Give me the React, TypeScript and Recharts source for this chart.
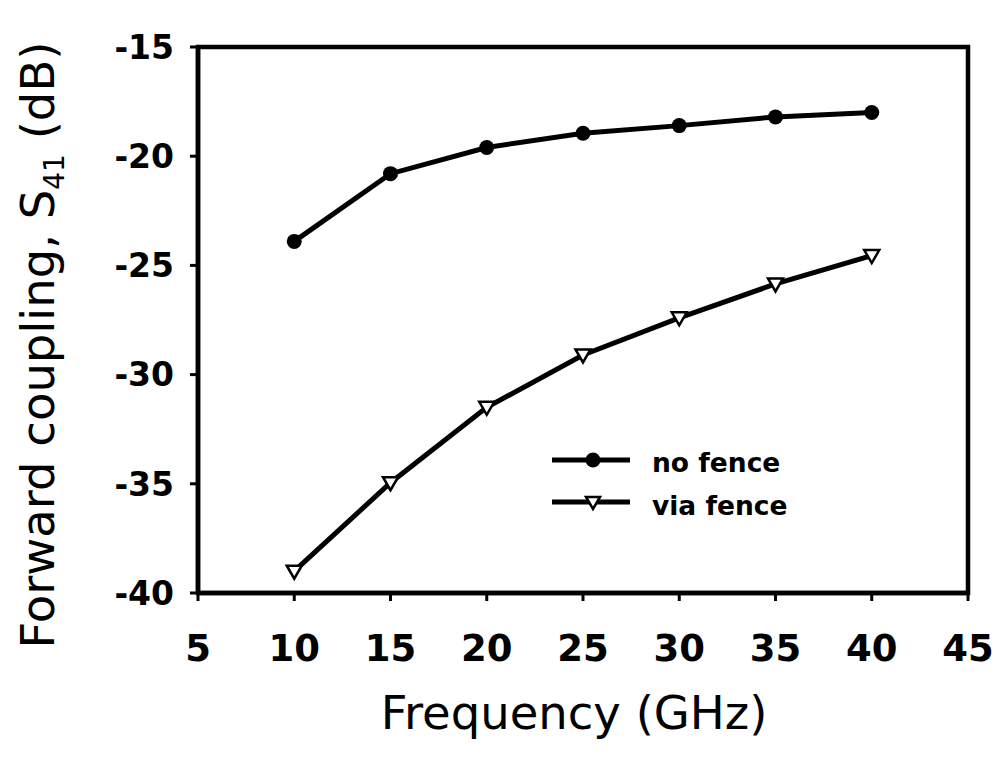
import {
  LineChart,
  Line,
  XAxis,
  YAxis,
  ReferenceArea,
  Legend,
} from "recharts";

const freqs = [10, 15, 20, 25, 30, 35, 40];
const noFence = [-23.9, -20.8, -19.6, -18.95, -18.6, -18.2, -18.0];
const viaFence = [-39.0, -34.95, -31.5, -29.1, -27.4, -25.85, -24.55];
const xTicks = [5, 10, 15, 20, 25, 30, 35, 40, 45];
const yTicks = [-40, -35, -30, -25, -20, -15];

const data = freqs.map((f, i) => ({ f, noFence: noFence[i], viaFence: viaFence[i] }));

const FONT = "'DejaVu Sans', 'Liberation Sans', Arial, sans-serif";

function Circle(props: any) {
  const { cx, cy, index } = props;
  if (cx == null || cy == null) return <g key={`c${index}`} />;
  return <circle key={`c${index}`} cx={cx} cy={cy} r={7.5} fill="#000" />;
}

function Triangle(props: any) {
  const { cx, cy, index } = props;
  if (cx == null || cy == null) return <g key={`t${index}`} />;
  return (
    <path
      key={`t${index}`}
      d={`M${cx - 7.5},${cy - 5.5} L${cx + 7.5},${cy - 5.5} L${cx},${cy + 7.5} Z`}
      fill="#fff"
      stroke="#000"
      strokeWidth={2.5}
    />
  );
}

function YTitle() {
  return (
    <text
      transform="rotate(-90)"
      x={-345}
      y={54}
      textAnchor="middle"
      fontSize={46.5}
      fill="#000"
      style={{ fontFamily: FONT }}
    >
      Forward coupling, S
      <tspan fontSize={28} dy={10}>41</tspan>
      <tspan dy={-10}> (dB)</tspan>
    </text>
  );
}

function XTitle() {
  return (
    <text x={574} y={729} textAnchor="middle" fontSize={46.5} fill="#000" style={{ fontFamily: FONT }}>
      Frequency (GHz)
    </text>
  );
}

function LegendBox() {
  return (
    <svg width={260} height={90} style={{ overflow: "visible" }}>
      <line x1={7} y1={20} x2={85} y2={20} stroke="#000" strokeWidth={5} />
      <circle cx={48} cy={20} r={7.5} fill="#000" />
      <text x={107} y={32} fontSize={26.5} fontWeight={700} fill="#000" style={{ fontFamily: FONT }}>
        no fence
      </text>
      <line x1={7} y1={62} x2={85} y2={62} stroke="#000" strokeWidth={5} />
      <path d="M41,57 L55,57 L48,69 Z" fill="#fff" stroke="#000" strokeWidth={2.5} />
      <text x={107} y={75} fontSize={26.5} fontWeight={700} fill="#000" style={{ fontFamily: FONT }}>
        via fence
      </text>
    </svg>
  );
}

export default function App() {
  return (
    <div style={{ position: "absolute", left: 0, top: 0, background: "#fff", fontFamily: FONT }}>
      <LineChart
        width={997}
        height={760}
        data={data}
        margin={{ top: 47, right: 29, bottom: 0, left: 0 }}
      >
        <XAxis
          dataKey="f"
          type="number"
          domain={[5, 45]}
          ticks={xTicks}
          interval={0}
          height={167}
          tickSize={8}
          tickMargin={34}
          tick={{ fill: "#000", fontSize: 37, fontWeight: 700 }}
          tickLine={{ stroke: "#000", strokeWidth: 3 }}
          axisLine={{ stroke: "#000", strokeWidth: 4.5 }}
          label={<XTitle />}
        />
        <YAxis
          type="number"
          domain={[-40, -15]}
          ticks={yTicks}
          interval={0}
          width={198}
          tickSize={8}
          tickMargin={16}
          tick={{ fill: "#000", fontSize: 33, fontWeight: 700 }}
          tickLine={{ stroke: "#000", strokeWidth: 3 }}
          axisLine={{ stroke: "#000", strokeWidth: 4.5 }}
          label={<YTitle />}
        />
        <ReferenceArea
          x1={5}
          x2={45}
          y1={-40}
          y2={-15}
          fill="none"
          stroke="#000"
          strokeWidth={4.5}
          ifOverflow="visible"
        />
        <Legend
          layout="vertical"
          align="center"
          verticalAlign="middle"
          content={() => <LegendBox />}
          wrapperStyle={{ position: "absolute", left: 545, top: 440, width: 260, height: 90 }}
        />
        <Line
          dataKey="noFence"
          name="no fence"
          stroke="#000"
          strokeWidth={5}
          dot={Circle}
          activeDot={false}
          isAnimationActive={false}
        />
        <Line
          dataKey="viaFence"
          name="via fence"
          stroke="#000"
          strokeWidth={5}
          dot={Triangle}
          activeDot={false}
          isAnimationActive={false}
        />
      </LineChart>
    </div>
  );
}
